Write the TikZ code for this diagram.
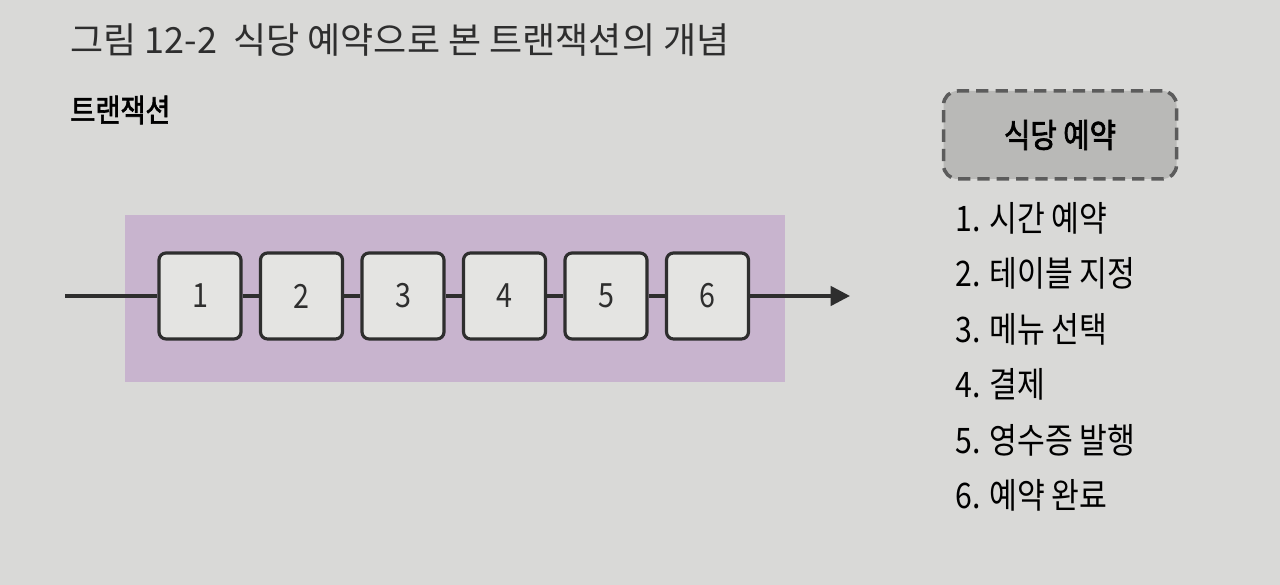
\documentclass[tikz,border=0pt]{standalone}
\usepackage{fontspec}
\setmainfont{Noto Sans CJK KR}[FakeStretch=0.86,AutoFakeBold=2]
\newfontfamily\widekr{Noto Sans CJK KR}[AutoFakeBold=2]
\usetikzlibrary{positioning,arrows.meta}
\definecolor{paper}{HTML}{D9D9D7}
\definecolor{lilac}{HTML}{C8B4CE}
\definecolor{stepfill}{HTML}{E4E4E2}
\definecolor{inkgray}{HTML}{2E2E2E}
\definecolor{tagfill}{HTML}{B9B9B7}
\definecolor{dashgray}{HTML}{5C5C5C}
\begin{document}
\begin{tikzpicture}[
  stepbox/.style={draw=inkgray, line width=1.8pt, fill=stepfill, rounded corners=4pt,
    minimum width=1.64cm, minimum height=1.72cm, font=\fontsize{19}{20}\selectfont, text=inkgray},
  link/.style={draw=inkgray, line width=2pt},
  item/.style={anchor=west, font=\fontsize{20}{22}\selectfont, inner sep=0pt}
]
\fill[paper] (0,0) rectangle (25.6,11.7);
% caption and heading
\node[anchor=west, font=\widekr\fontsize{20.5}{22}\selectfont, inner sep=0pt, text=inkgray] (title) at (1.4,10.9)
  {그림 12-2\ \ 식당 예약으로 본 트랜잭션의 개념};
\node[anchor=west, font=\bfseries\fontsize{18}{19}\selectfont, inner sep=0pt] (txlabel) at (1.4,9.5) {트랜잭션};
% transaction band
\fill[lilac] (2.5,4.06) rectangle (15.7,7.4);
\foreach \i in {1,...,6}
  \node[stepbox] (b\i) at ({4+2.03*(\i-1)},5.78) {\i};
\coordinate (start) at (1.3,5.78);
\coordinate (end) at (17.0,5.78);
\draw[link] (start) -- (b1);
\foreach \i/\j in {1/2,2/3,3/4,4/5,5/6}
  \draw[link] (b\i) -- (b\j);
\draw[link,-{Triangle[length=11pt,width=11pt]}] (b6) -- (end);
% legend
\node[draw=dashgray, line width=2pt, dash pattern=on 7pt off 4pt, fill=tagfill, rounded corners=8pt,
  minimum width=4.66cm, minimum height=1.76cm, font=\bfseries\fontsize{19}{20}\selectfont] (tag) at (21.2,9.0) {식당 예약};
\node[item] (s1) at (19.1,7.34) {1. 시간 예약};
\node[item] (s2) at (19.1,6.23) {2. 테이블 지정};
\node[item] (s3) at (19.1,5.12) {3. 메뉴 선택};
\node[item] (s4) at (19.1,4.01) {4. 결제};
\node[item] (s5) at (19.1,2.90) {5. 영수증 발행};
\node[item] (s6) at (19.1,1.79) {6. 예약 완료};
\end{tikzpicture}
\end{document}
